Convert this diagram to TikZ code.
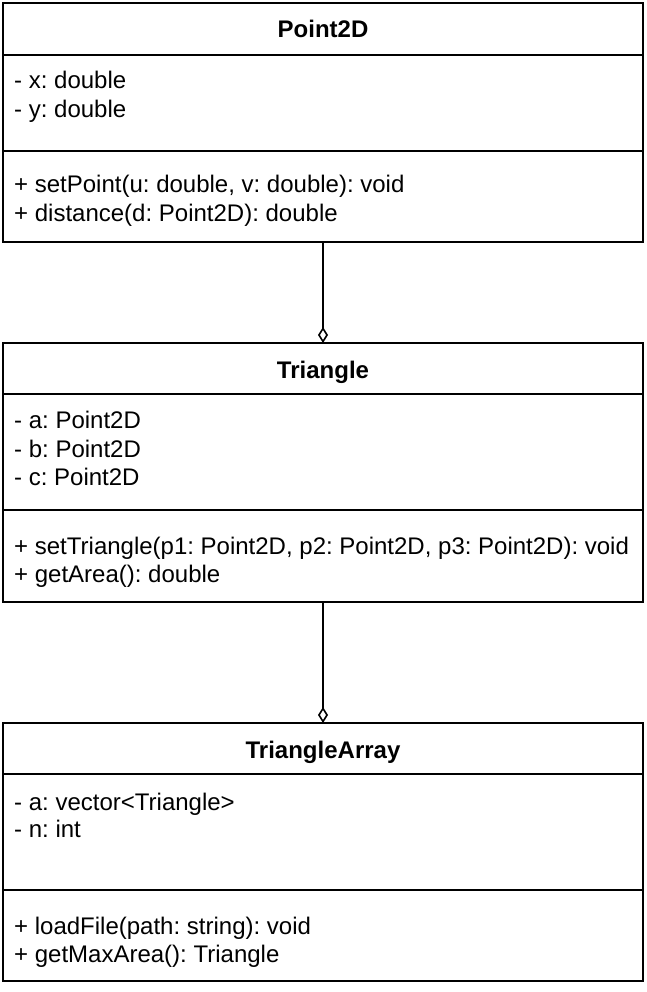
\documentclass[tikz,border=0pt]{standalone}
\usepackage{fontspec}
\setmainfont{Liberation Sans}
\usetikzlibrary{arrows.meta}
\frenchspacing
\tikzset{
  part/.style={draw, line width=1.6pt, minimum width=640pt, inner sep=0pt, outer sep=0pt},
  title/.style={font=\fontsize{24pt}{28pt}\selectfont\bfseries, anchor=base, inner sep=0pt},
  entry/.style={font=\fontsize{24pt}{28pt}\selectfont, anchor=base west, inner sep=0pt},
  agg/.style={line width=1.6pt, -{Diamond[open, length=16pt, width=10pt, line width=1.6pt]}}
}
\begin{document}
\begin{tikzpicture}[x=1pt,y=-1pt]
\useasboundingbox (0,0) rectangle (646,992);
% Point2D
\node[part, minimum height=52pt] (p-head) at (323,29) {};
\node[part, minimum height=96pt] (p-attr) at (323,103) {};
\node[part, minimum height=91pt] (p-meth) at (323,196.5) {};
\node[title] (p-title) at (323,38) {Point2D};
\node[entry] (p-a1) at (14,89) {- x: double};
\node[entry] (p-a2) at (14,118) {- y: double};
\node[entry] (p-m1) at (14,193) {+ setPoint(u: double, v: double): void};
\node[entry] (p-m2) at (14,222) {+ distance(d: Point2D): double};
% Triangle
\node[part, minimum height=51pt] (t-head) at (323,368.5) {};
\node[part, minimum height=116pt] (t-attr) at (323,452) {};
\node[part, minimum height=92pt] (t-meth) at (323,556) {};
\node[title] (t-title) at (323,378) {Triangle};
\node[entry] (t-a1) at (14,428) {- a: Point2D};
\node[entry] (t-a2) at (14,457) {- b: Point2D};
\node[entry] (t-a3) at (14,485) {- c: Point2D};
\node[entry] (t-m1) at (14,554) {+ setTriangle(p1: Point2D, p2: Point2D, p3: Point2D): void};
\node[entry] (t-m2) at (14,582) {+ getArea(): double};
% TriangleArray
\node[part, minimum height=51pt] (a-head) at (323,748.5) {};
\node[part, minimum height=116pt] (a-attr) at (323,832) {};
\node[part, minimum height=91pt] (a-meth) at (323,935.5) {};
\node[title] (a-title) at (323,758) {TriangleArray};
\node[entry] (a-a1) at (14,810) {- a: vector<Triangle>};
\node[entry] (a-a2) at (14,837) {- n: int};
\node[entry] (a-m1) at (14,934) {+ loadFile(path: string): void};
\node[entry] (a-m2) at (14,962) {+ getMaxArea(): Triangle};
% connectors
\draw[agg] (p-meth.south) -- (t-head.north);
\draw[agg] (t-meth.south) -- (a-head.north);
\end{tikzpicture}
\end{document}
